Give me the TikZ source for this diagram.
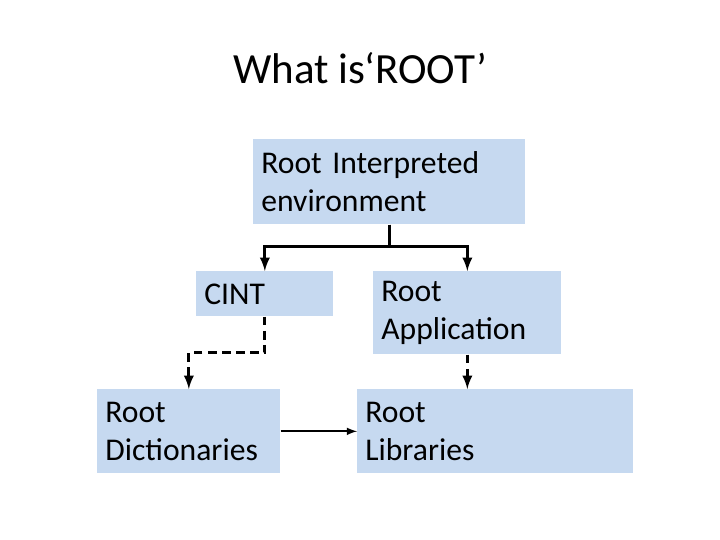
\documentclass[tikz,border=0pt]{standalone}
\usepackage{fontspec}
\setmainfont{Carlito}
\usetikzlibrary{positioning}

\begin{document}
\begin{tikzpicture}
    \tikzset{box/.style={rectangle, fill=Box_blue, anchor=north west, align=left,
        inner xsep=0.16cm, inner ysep=0cm, font=\fontsize{18}{21.5}\selectfont}}
    \tikzset{link/.style={line width=1.6pt, -latex}}
\definecolor{Box_blue}{RGB}{198,217,240}
\useasboundingbox (0,0) rectangle (14.4,-10.8);
% Titel
\node[font=\fontsize{24.5}{29}\selectfont] (title) at (7.2,-1.36) {What is‘ROOT’};
% Kaesten
\node[box, text width=5.12cm, minimum height=1.7cm] (root) at (5.06,-2.78) {Root Interpreted\\environment};
\node[box, text width=2.42cm, minimum height=0.9cm] (cint) at (3.92,-5.42) {CINT};
\node[box, text width=3.44cm, minimum height=1.66cm] (app) at (7.46,-5.42) {Root\\Application};
\node[box, text width=3.34cm, minimum height=1.68cm] (dict) at (1.94,-7.78) {Root\\Dictionaries};
\node[box, text width=5.2cm, minimum height=1.68cm] (libs) at (7.14,-7.78) {Root\\Libraries};

% Verbindungen
\draw[link] (root.south) -- ++(0,-0.44) -| (cint.north);
\draw[link] (root.south) -- ++(0,-0.44) -| (app.north);
\draw[link, dash pattern=on 5pt off 3pt] (cint.south) -- ++(0,-0.72) -| (dict.north);
\draw[link, dash pattern=on 5pt off 3pt] (app.south) -- (app.south |- libs.north);
\draw[line width=1pt, -latex] (dict.east) -- (libs.west);
\end{tikzpicture}
\end{document}
